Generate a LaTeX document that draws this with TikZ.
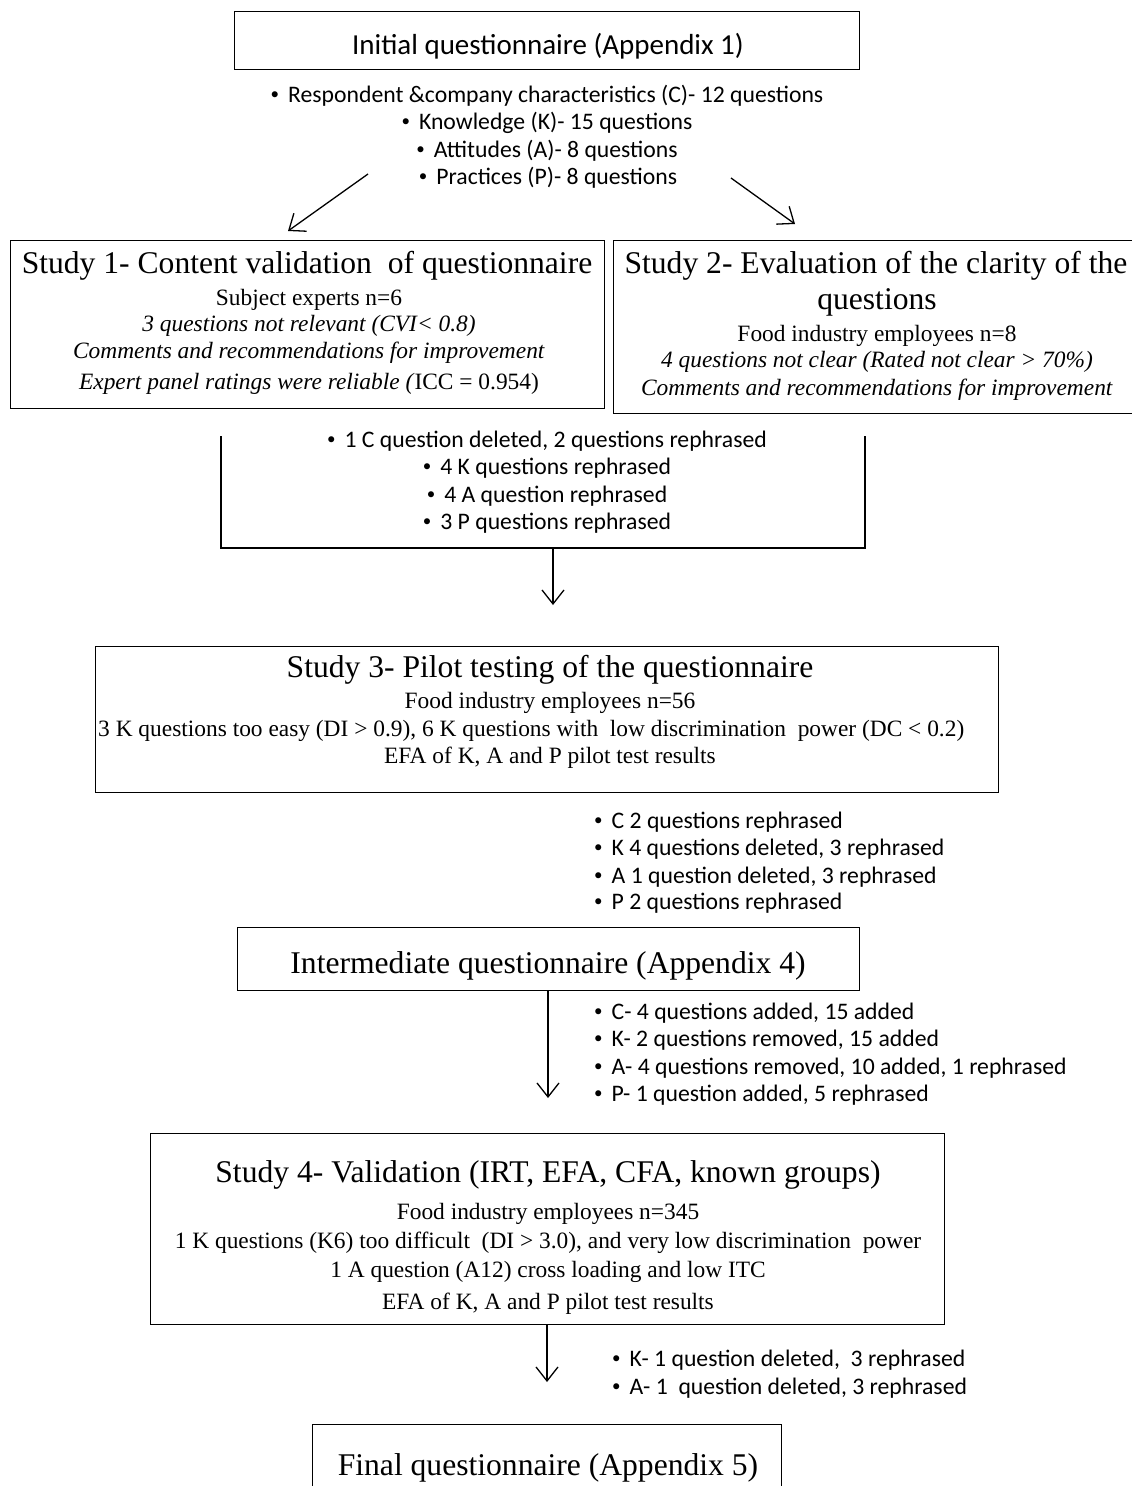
\documentclass[tikz,border=0pt]{standalone}
\usepackage{fontspec}
\setmainfont{Liberation Serif}
\newfontfamily\calib{Carlito}
\usetikzlibrary{arrows.meta}
\tikzset{
 box/.style={draw, line width=1.3pt, inner sep=0pt},
 bul/.style={font=\calib\fontsize{23.7}{26}\selectfont, inner sep=0pt, anchor=mid},
 bull/.style={bul, anchor=mid west},
 ttl/.style={font=\fontsize{31.6}{34}\selectfont, inner sep=0pt, anchor=mid},
 txt/.style={font=\fontsize{23.4}{26}\selectfont, inner sep=0pt, anchor=mid},
 txtl/.style={txt, anchor=mid west},
 arr/.style={line width=1.3pt, -{Straight Barb[length=14pt,width=22pt]}},
 ln/.style={line width=1.3pt}
}
\newcommand{\bu}{\raisebox{0.22ex}{\fontsize{17}{17}\selectfont •}\hspace{9pt}}
\begin{document}
\begin{tikzpicture}[x=1pt,y=-1pt]
\useasboundingbox (0,0) rectangle (1132,1486);
\fill[white] (0,0) rectangle (1132,1486);

% Initial
\node[box, anchor=north west, minimum width=625pt, minimum height=58pt] (init) at (234,11) {};
\node[font=\calib\fontsize{29}{32}\selectfont, inner sep=0pt, anchor=mid] (initt) at (548,52) {Initial questionnaire (Appendix 1)};
\node[bul] (b1) at (547,100) {\bu Respondent \&company characteristics (C)- 12 questions};
\node[bul] (b2) at (547,127) {\bu Knowledge (K)- 15 questions};
\node[bul] (b3) at (547,155) {\bu Attitudes (A)- 8 questions};
\node[bul] (b4) at (548,182) {\bu Practices (P)- 8 questions};

\coordinate (la) at (368,174);
\coordinate (lb) at (288,231);
\coordinate (ra) at (731,178);
\coordinate (rb) at (795,224);
\draw[arr] (la) -- (lb);
\draw[arr] (ra) -- (rb);

% Study 1
\node[box, anchor=north west, minimum width=594pt, minimum height=168pt] (s1) at (10,240) {};
\node[ttl] (s1t) at (307,271) {Study 1- Content validation \ of questionnaire};
\node[txt] (s1a) at (309,303) {Subject experts n=6};
\node[txt] (s1b) at (309,329) {\textit{3 questions not relevant (CVI< 0.8)}};
\node[txt] (s1c) at (309,356) {\textit{Comments and recommendations for improvement}};
\node[txt] (s1d) at (309,387) {\textit{Expert panel ratings were reliable (}ICC = 0.954)};

% Study 2
\node[box, anchor=north west, minimum width=540pt, minimum height=173pt] (s2) at (613,240) {};
\node[ttl] (s2t) at (876,271) {Study 2- Evaluation of the clarity of the};
\node[ttl] (s2u) at (877,307) {questions};
\node[txt] (s2a) at (877,339) {Food industry employees n=8};
\node[txt] (s2b) at (877,365) {\textit{4 questions not clear (Rated not clear > 70\%)}};
\node[txt] (s2c) at (877,393) {\textit{Comments and recommendations for improvement}};

% bracket
\coordinate (bl) at (221,436);
\coordinate (br) at (865,436);
\coordinate (blb) at (221,548);
\coordinate (brb) at (865,548);
\coordinate (bm) at (553,548);
\coordinate (bme) at (553,605);
\draw[ln] (bl) -- (blb) -- (brb) -- (br);
\draw[arr] (bm) -- (bme);
\node[bul] (m1) at (547,445) {\bu 1 C question deleted, 2 questions rephrased};
\node[bul] (m2) at (547,472) {\bu 4 K questions rephrased};
\node[bul] (m3) at (547,500) {\bu 4 A question rephrased};
\node[bul] (m4) at (547,527) {\bu 3 P questions rephrased};

% Study 3
\node[box, anchor=north west, minimum width=903pt, minimum height=146pt] (s3) at (95,646) {};
\node[ttl] (s3t) at (550,675) {Study 3- Pilot testing of the questionnaire};
\node[txt] (s3a) at (550,706) {Food industry employees n=56};
\node[txtl] (s3b) at (98,734) {3 K questions too easy (DI > 0.9), 6 K questions with \ low discrimination \ power (DC < 0.2)};
\node[txt] (s3c) at (550,761) {EFA of K, A and P pilot test results};

\node[bull] (p1) at (594,826) {\bu C 2 questions rephrased};
\node[bull] (p2) at (594,853) {\bu K 4 questions deleted, 3 rephrased};
\node[bull] (p3) at (594,881) {\bu A 1 question deleted, 3 rephrased};
\node[bull] (p4) at (594,907) {\bu P 2 questions rephrased};

% Intermediate
\node[box, anchor=north west, minimum width=622pt, minimum height=63pt] (inter) at (237,927) {};
\node[ttl] (intert) at (548,971) {Intermediate questionnaire (Appendix 4)};
\coordinate (ia) at (548,990);
\coordinate (ib) at (548,1098);
\draw[arr] (ia) -- (ib);
\node[bull] (q1) at (594,1017) {\bu C- 4 questions added, 15 added};
\node[bull] (q2) at (594,1044) {\bu K- 2 questions removed, 15 added};
\node[bull] (q3) at (594,1072) {\bu A- 4 questions removed, 10 added, 1 rephrased};
\node[bull] (q4) at (594,1099) {\bu P- 1 question added, 5 rephrased};

% Study 4
\node[box, anchor=north west, minimum width=794pt, minimum height=191pt] (s4) at (150,1133) {};
\node[ttl] (s4t) at (548,1180) {Study 4- Validation (IRT, EFA, CFA, known groups)};
\node[txt] (s4a) at (548,1217) {Food industry employees n=345};
\node[txt] (s4b) at (548,1246) {1 K questions (K6) too difficult \ (DI > 3.0), and very low discrimination \ power};
\node[txt] (s4c) at (548,1275) {1 A question (A12) cross loading and low ITC};
\node[txt] (s4d) at (548,1307) {EFA of K, A and P pilot test results};
\coordinate (sa) at (547,1324);
\coordinate (sb) at (547,1382);
\draw[arr] (sa) -- (sb);
\node[bull] (r1) at (612,1364) {\bu K- 1 question deleted, \ 3 rephrased};
\node[bull] (r2) at (612,1392) {\bu A- 1 \ question deleted, 3 rephrased};

% Final
\node[box, anchor=north west, minimum width=469pt, minimum height=100pt] (fin) at (312,1424) {};
\node[ttl] (fint) at (548,1473) {Final questionnaire (Appendix 5)};
\end{tikzpicture}
\end{document}
